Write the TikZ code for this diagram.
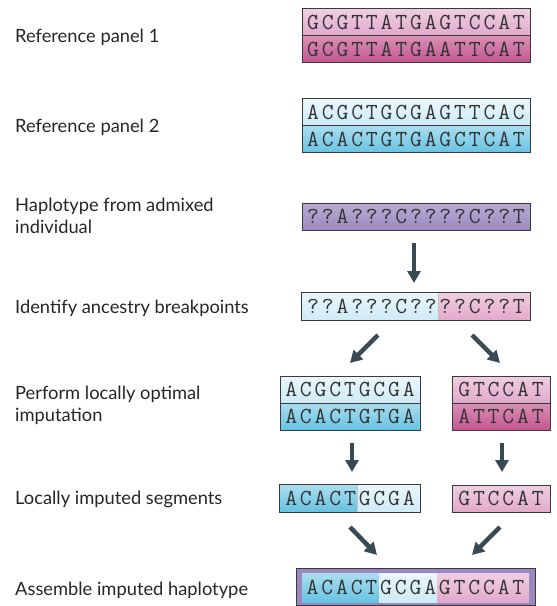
\documentclass[tikz,border=0pt]{standalone}
\usepackage{fontspec}
\setmainfont{Lato}
\usetikzlibrary{arrows.meta}

\definecolor{pinklt}{HTML}{E2A8CA}
\definecolor{pinkdk}{HTML}{C4558F}
\definecolor{bluelt}{HTML}{CDEBF7}
\definecolor{bluedk}{HTML}{66C2E2}
\definecolor{purp}{HTML}{9A89BE}
\definecolor{arrowc}{HTML}{3A4A54}
\definecolor{edge}{HTML}{3A3A3A}

% one letter per fixed cell
\makeatletter
\newcommand\dna[1]{\dna@next#1\@nil}
\def\dna@next#1{\ifx\@nil#1\else\makebox[14.7pt]{#1}\expandafter\dna@next\fi}
\makeatother

\begin{document}
\begin{tikzpicture}[x=1pt, y=-1pt,
  lbl/.style={anchor=base west, inner sep=0pt, align=left, text=black!85,
    font=\fontsize{18.3}{21.5}\selectfont},
  seq/.style={inner sep=0pt, text=black!80, font=\ttfamily\fontsize{23}{23}\selectfont},
  row/.style={seq, draw=edge, line width=0.8pt, minimum width=228, minimum height=27},
  seg/.style={inner sep=0pt, minimum height=27},
  pinkA/.style={top color=pinklt!55!white, bottom color=pinklt},
  pinkB/.style={top color=pinkdk!65!white, bottom color=pinkdk},
  blueA/.style={top color=bluelt!40!white, bottom color=bluelt},
  blueB/.style={top color=bluedk!55!white, bottom color=bluedk},
  purpA/.style={top color=purp!70!white, bottom color=purp},
  arr/.style={draw=arrowc, line width=4.5pt, -{Triangle[width=13pt,length=12pt]}}]
  \useasboundingbox (0,0) rectangle (557,606);

  % labels (base = last line)
  \node[lbl] (l1) at (15,42)  {Reference panel 1};
  \node[lbl] (l2) at (15,132) {Reference panel 2};
  \node[lbl] (l3) at (15,233) {Haplotype from admixed\\individual};
  \node[lbl] (l4) at (15,313) {Identify ancestry breakpoints};
  \node[lbl] (l5) at (15,421) {Perform locally optimal\\imputation};
  \node[lbl] (l6) at (15,504) {Locally imputed segments};
  \node[lbl] (l7) at (15,595) {Assemble imputed haplotype};

  % reference panels
  \node[row, pinkA] (ref1a) at (416,22) {\dna{GCGTTATGAGTCCAT}};
  \node[row, pinkB] (ref1b) at (416,49) {\dna{GCGTTATGAATTCAT}};
  \node[row, blueA] (ref2a) at (416,112) {\dna{ACGCTGCGAGTTCAC}};
  \node[row, blueB] (ref2b) at (416,139) {\dna{ACACTGTGAGCTCAT}};

  % admixed haplotype
  \node[row, purpA] (hap) at (416,216.5) {\dna{??A???C????C??T}};

  % breakpoints
  \node[seg, blueA, minimum width=136] (bpL) at (370,306.5) {};
  \node[seg, pinkA, minimum width=92]  (bpR) at (484,306.5) {};
  \draw[edge, line width=0.8pt] (bpL.north west) rectangle (bpR.south east);
  \draw[white!70!edge, line width=0.5pt] (bpL.north east) -- (bpL.south east);
  \node[seq] (bp) at (416,306.5) {\dna{??A???C????C??T}};

  % locally optimal imputation
  \node[row, blueA, minimum width=140] (optLa) at (350,389.5) {\dna{ACGCTGCGA}};
  \node[row, blueB, minimum width=140] (optLb) at (350,416.5) {\dna{ACACTGTGA}};
  \node[row, pinkA, minimum width=98]  (optRa) at (501,389.5) {\dna{GTCCAT}};
  \node[row, pinkB, minimum width=98]  (optRb) at (501,416.5) {\dna{ATTCAT}};

  % imputed segments
  \node[seg, blueB, minimum width=77] (impL1) at (318.5,498.5) {};
  \node[seg, blueA, minimum width=63] (impL2) at (388.5,498.5) {};
  \draw[edge, line width=0.8pt] (impL1.north west) rectangle (impL2.south east);
  \draw[white!70!edge, line width=0.5pt] (impL1.north east) -- (impL1.south east);
  \node[seq] (impL) at (350,498.5) {\dna{ACACTGCGA}};
  \node[row, pinkA, minimum width=98] (impR) at (501,498.5) {\dna{GTCCAT}};

  % assembled haplotype
  \node[draw=edge, line width=0.8pt, fill=purp, minimum width=239, minimum height=37,
    inner sep=0pt] (fin) at (415.5,587) {};
  \node[seg, blueB, minimum width=77, minimum height=29] (fin1) at (340.5,587.5) {};
  \node[seg, blueA, minimum width=58, minimum height=29] (fin2) at (408,587.5) {};
  \node[seg, pinkA, minimum width=92, minimum height=29] (fin3) at (483,587.5) {};
  \node[seq] (finT) at (415.5,587.5) {\dna{ACACTGCGAGTCCAT}};

  % arrows
  \coordinate (a1s) at (414,243); \coordinate (a1e) at (414,283);
  \coordinate (a2s) at (378,335); \coordinate (a2e) at (350,363);
  \coordinate (a3s) at (472,335); \coordinate (a3e) at (500,363);
  \coordinate (a4s) at (352,443); \coordinate (a4e) at (352,472);
  \coordinate (a5s) at (502,443); \coordinate (a5e) at (502,472);
  \coordinate (a6s) at (350,527); \coordinate (a6e) at (377,555);
  \coordinate (a7s) at (500,527); \coordinate (a7e) at (472,555);
  \draw[arr] (a1s) -- (a1e);
  \draw[arr] (a2s) -- (a2e);
  \draw[arr] (a3s) -- (a3e);
  \draw[arr] (a4s) -- (a4e);
  \draw[arr] (a5s) -- (a5e);
  \draw[arr] (a6s) -- (a6e);
  \draw[arr] (a7s) -- (a7e);
\end{tikzpicture}
\end{document}
